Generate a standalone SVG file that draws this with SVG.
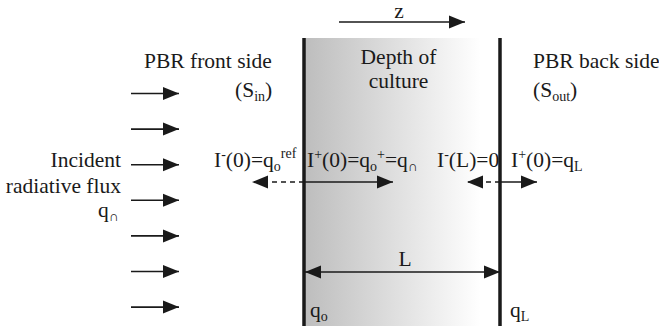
<svg xmlns="http://www.w3.org/2000/svg" width="659" height="331" viewBox="0 0 659 331">
<style>
text{font-family:"Liberation Serif","Times New Roman",serif;font-size:21.5px;fill:#1a1a1a}
.sm{font-size:14px}
.ln{stroke:#1a1a1a;stroke-width:1.6;fill:none}
.dash{stroke-dasharray:5,4}
.wall{stroke:#1a1a1a;stroke-width:3.5}
</style>
<defs>
<linearGradient id="g" x1="0" y1="0" x2="1" y2="0">
<stop offset="0" stop-color="#bdbdbd"/>
<stop offset="0.9" stop-color="#ffffff"/>
<stop offset="1" stop-color="#ffffff"/>
</linearGradient>
<marker id="ah" markerUnits="userSpaceOnUse" markerWidth="16" markerHeight="14" refX="16" refY="7" orient="auto-start-reverse" viewBox="0 0 16 14">
<path d="M0,0.5 L16,7 L0,13.5 z" fill="#1a1a1a"/>
</marker>
</defs>

<g id="culture">
<rect x="304" y="38" width="196" height="288" fill="url(#g)"/>
<line class="wall" x1="304" y1="38" x2="304" y2="326"/>
<line class="wall" x1="500" y1="38" x2="500" y2="326"/>
<text x="398.5" y="64" text-anchor="middle">Depth of</text>
<text x="398.5" y="88" text-anchor="middle">culture</text>
</g>

<g id="front-label">
<text x="144" y="68">PBR front side</text>
<text x="235" y="97">(S<tspan class="sm" dy="4">in</tspan><tspan dy="-4">)</tspan></text>
</g>

<g id="back-label">
<text x="533" y="68">PBR back side</text>
<text x="533" y="97">(S<tspan class="sm" dy="4">out</tspan><tspan dy="-4">)</tspan></text>
</g>

<g id="incident-label">
<text x="121" y="167" text-anchor="end">Incident</text>
<text x="121" y="193" text-anchor="end">radiative flux</text>
<text x="98" y="217">q<tspan class="sm" dy="4">∩</tspan></text>
</g>

<g id="z-axis">
<text x="399" y="18" text-anchor="middle">z</text>
</g>

<g id="labels">
<text x="214" y="167">I<tspan class="sm" dy="-8">-</tspan><tspan dy="8">(0)=q</tspan><tspan class="sm" dy="4">o</tspan><tspan class="sm" dy="-13">ref</tspan></text>
<text x="307" y="167">I<tspan class="sm" dy="-8">+</tspan><tspan dy="8">(0)=q</tspan><tspan class="sm" dy="4">o</tspan><tspan class="sm" dy="-12">+</tspan><tspan dy="8">=q</tspan><tspan class="sm" dy="4">∩</tspan></text>
<text x="437" y="167">I<tspan class="sm" dy="-8">-</tspan><tspan dy="8">(L)=0</tspan></text>
<text x="511" y="167">I<tspan class="sm" dy="-8">+</tspan><tspan dy="8">(0)=q</tspan><tspan class="sm" dy="4">L</tspan></text>
<text x="405" y="266" text-anchor="middle">L</text>
<text x="310" y="317">q<tspan class="sm" dy="4">o</tspan></text>
<text x="510" y="317">q<tspan class="sm" dy="4">L</tspan></text>
</g>

<g id="connectors">
<line class="ln" x1="339" y1="22" x2="465" y2="22" marker-end="url(#ah)"/>
<line class="ln" x1="131" y1="93.5" x2="179" y2="93.5" marker-end="url(#ah)"/>
<line class="ln" x1="131" y1="129.1" x2="179" y2="129.1" marker-end="url(#ah)"/>
<line class="ln" x1="131" y1="164.7" x2="179" y2="164.7" marker-end="url(#ah)"/>
<line class="ln" x1="131" y1="200.3" x2="179" y2="200.3" marker-end="url(#ah)"/>
<line class="ln" x1="131" y1="235.9" x2="179" y2="235.9" marker-end="url(#ah)"/>
<line class="ln" x1="131" y1="271.5" x2="179" y2="271.5" marker-end="url(#ah)"/>
<line class="ln" x1="131" y1="307.1" x2="179" y2="307.1" marker-end="url(#ah)"/>
<line class="ln dash" x1="304" y1="182" x2="252" y2="182" marker-end="url(#ah)"/>
<line class="ln" x1="304" y1="182" x2="393" y2="182" marker-end="url(#ah)"/>
<line class="ln dash" x1="500" y1="182" x2="467" y2="182" marker-end="url(#ah)"/>
<line class="ln" x1="500" y1="182" x2="537" y2="182" marker-end="url(#ah)"/>
<line class="ln" x1="305" y1="272" x2="500" y2="272" marker-start="url(#ah)" marker-end="url(#ah)"/>
</g>
</svg>
